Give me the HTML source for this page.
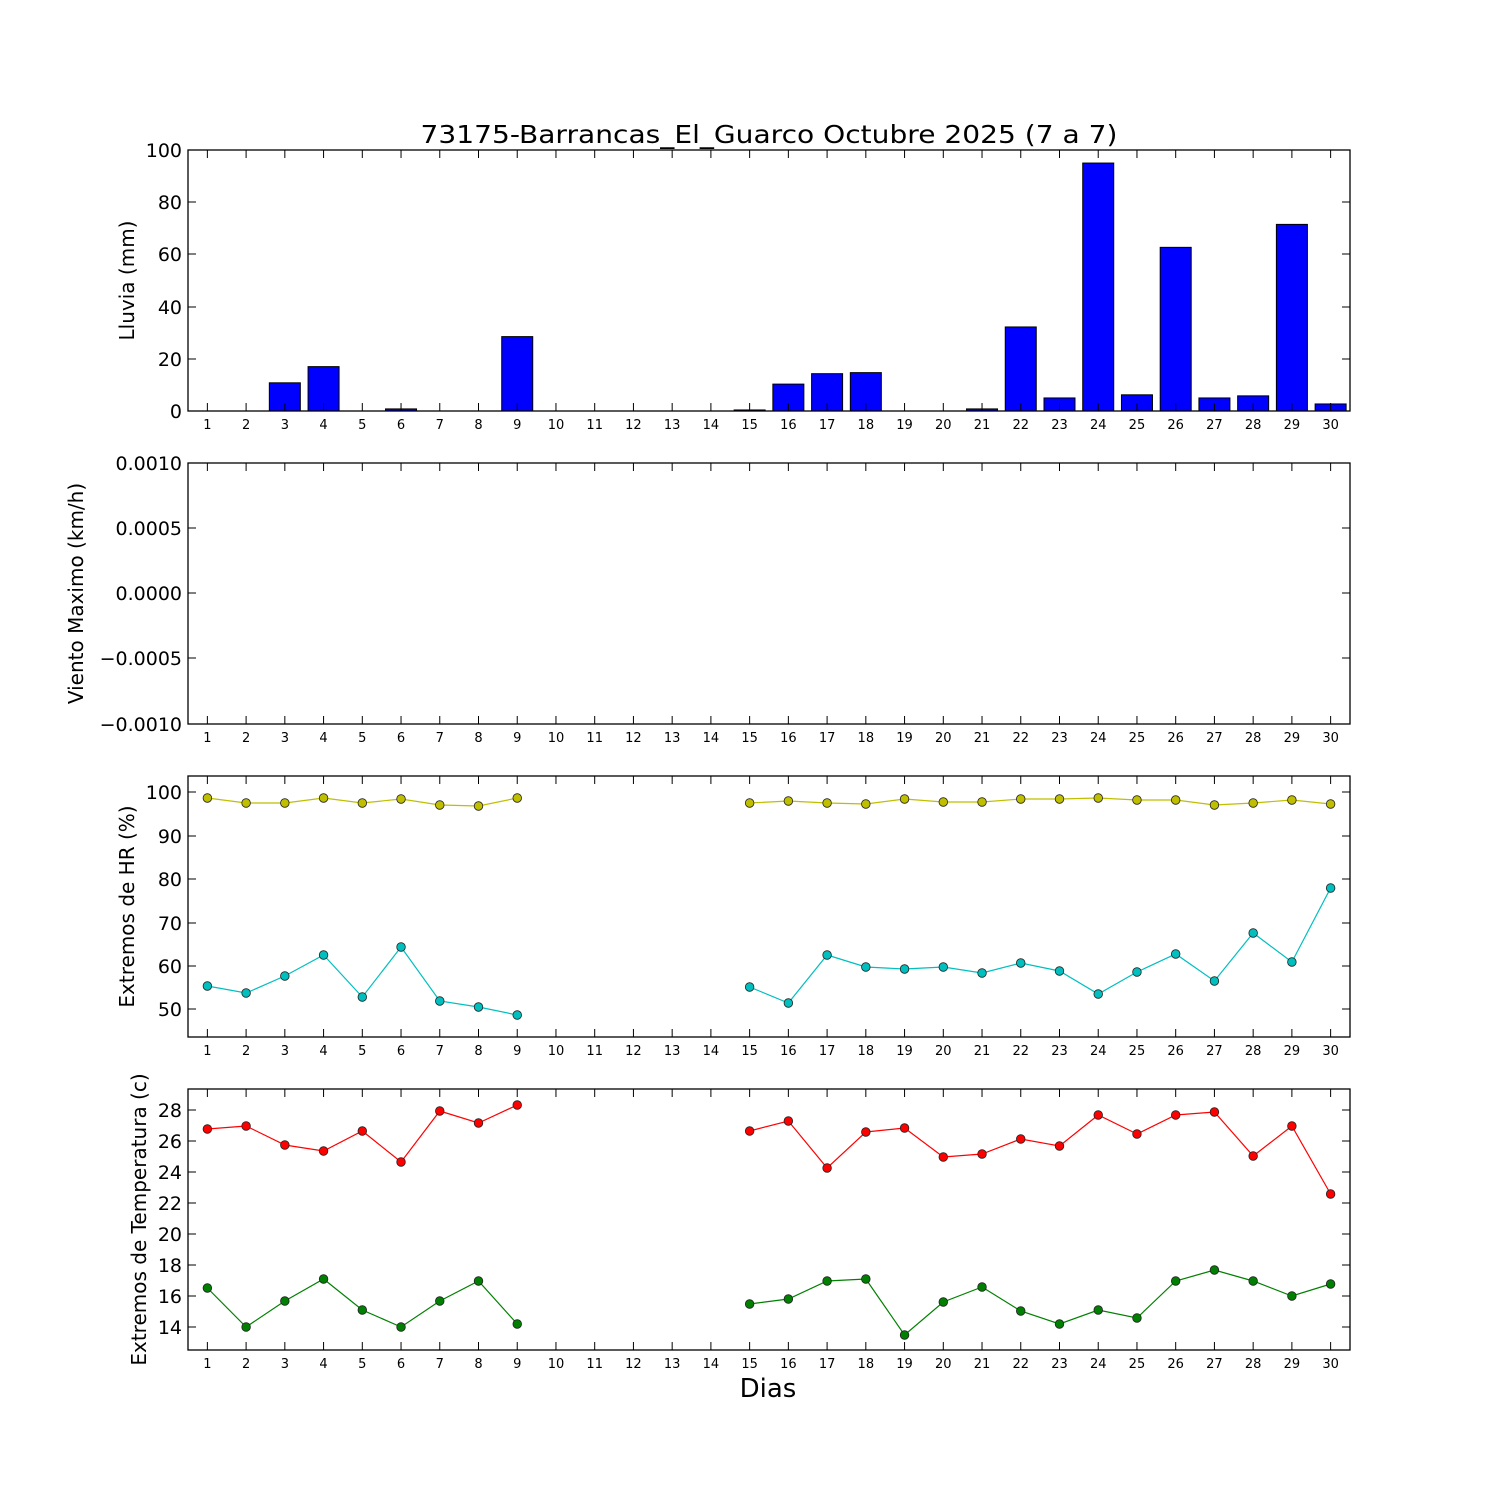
<!DOCTYPE html>
<html><head><meta charset="utf-8"><style>
html,body{margin:0;padding:0;background:#fff;}
svg{display:block;font-family:"DejaVu Sans","Liberation Sans",sans-serif;}
</style></head><body>
<svg id="s" width="1500" height="1500" xmlns="http://www.w3.org/2000/svg"></svg>
<script>
const s=document.getElementById('s');let h='';
const L=188,R=1350,U=38.733;
const X=d=>L+(d-0.5)*U;
const panels=[[150,411],[463,724],[776,1037],[1089,1350]];
const bars={1:0,2:0,3:10.8,4:17,5:0,6:0.8,7:0,8:0,9:28.5,15:0.4,16:10.3,17:14.3,18:14.7,19:0,20:0,21:0.8,22:32.2,23:5,24:95,25:6.2,26:62.7,27:5,28:5.8,29:71.5,30:2.7};
for(const d in bars){const v=bars[d];const y=411-v*2.61;h+=`<rect x="${X(+d)-15.5}" y="${y}" width="31" height="${411-y}" fill="#0000ff" stroke="#000" stroke-width="1"/>`;}
function series(days,ys,col){let segs=[[]];let prev=null;days.forEach((d,i)=>{if(prev!==null&&d-prev>1)segs.push([]);segs[segs.length-1].push([X(d),ys[i]]);prev=d;});
segs.forEach(sg=>{h+=`<polyline fill="none" stroke="${col}" stroke-width="1.2" points="${sg.map(p=>p.join(',')).join(' ')}"/>`;});
days.forEach((d,i)=>{h+=`<circle cx="${X(d)}" cy="${ys[i]}" r="4.3" fill="${col}" stroke="#222" stroke-width="0.8"/>`;});}
const days=[1,2,3,4,5,6,7,8,9,15,16,17,18,19,20,21,22,23,24,25,26,27,28,29,30];
series(days,[798,803,803,798,803,799,805,806,798,803,801,803,804,799,802,802,799,799,798,800,800,805,803,800,804],'#bfbf00');
series(days,[986,993,976,955,997,947,1001,1007,1015,987,1003,955,967,969,967,973,963,971,994,972,954,981,933,962,888],'#00bfbf');
series(days,[1129,1126,1145,1151,1131,1162,1111,1123,1105,1131,1121,1168,1132,1128,1157,1154,1139,1146,1115,1134,1115,1112,1156,1126,1194],'#ff0000');
series(days,[1288,1327,1301,1279,1310,1327,1301,1281,1324,1304,1299,1281,1279,1335,1302,1287,1311,1324,1310,1318,1281,1270,1281,1296,1284],'#008000');
const yt=[
 [[0,411],[20,359],[40,307],[60,254],[80,202],[100,150]].map(a=>[String(a[0]),a[1]]),
 [["0.0010",463],["0.0005",528],["0.0000",593],["\u22120.0005",658],["\u22120.0010",724]],
 [[50,1009],[60,966],[70,923],[80,879],[90,836],[100,792]].map(a=>[String(a[0]),a[1]]),
 [[14,1327],[16,1296],[18,1265],[20,1234],[22,1203],[24,1172],[26,1141],[28,1110]].map(a=>[String(a[0]),a[1]])
];
const yl=["Lluvia (mm)","Viento Maximo (km/h)","Extremos de HR (%)","Extremos de Temperatura (c)"];
const ylx=[134,83,134,146];
panels.forEach(([t,b],i)=>{
 h+=`<rect x="${L}" y="${t}" width="${R-L}" height="${b-t}" fill="none" stroke="#000" stroke-width="1.3"/>`;
 for(let d=1;d<=30;d++){const x=X(d);h+=`<line x1="${x}" y1="${b}" x2="${x}" y2="${b-8}" stroke="#000"/><line x1="${x}" y1="${t}" x2="${x}" y2="${t+8}" stroke="#000"/>`;
  h+=`<text x="${x}" y="${b+18}" font-size="13" text-anchor="middle">${d}</text>`;}
 yt[i].forEach(([lab,y])=>{h+=`<line x1="${L}" y1="${y}" x2="${L+8}" y2="${y}" stroke="#000"/><line x1="${R}" y1="${y}" x2="${R-8}" y2="${y}" stroke="#000"/>`;
  h+=`<text x="${L-6}" y="${y+7}" font-size="19" text-anchor="end">${lab}</text>`;});
 const cy=(t+b)/2;h+=`<text transform="translate(${ylx[i]},${cy}) rotate(-90)" font-size="20" text-anchor="middle">${yl[i]}</text>`;
});
h+=`<text x="769" y="143" font-size="25" text-anchor="middle" textLength="697" lengthAdjust="spacingAndGlyphs">73175-Barrancas_El_Guarco Octubre 2025  (7 a 7)</text>`;
h+=`<text x="768" y="1397" font-size="26" text-anchor="middle">Dias</text>`;
s.innerHTML=h;
</script>
</body></html>
